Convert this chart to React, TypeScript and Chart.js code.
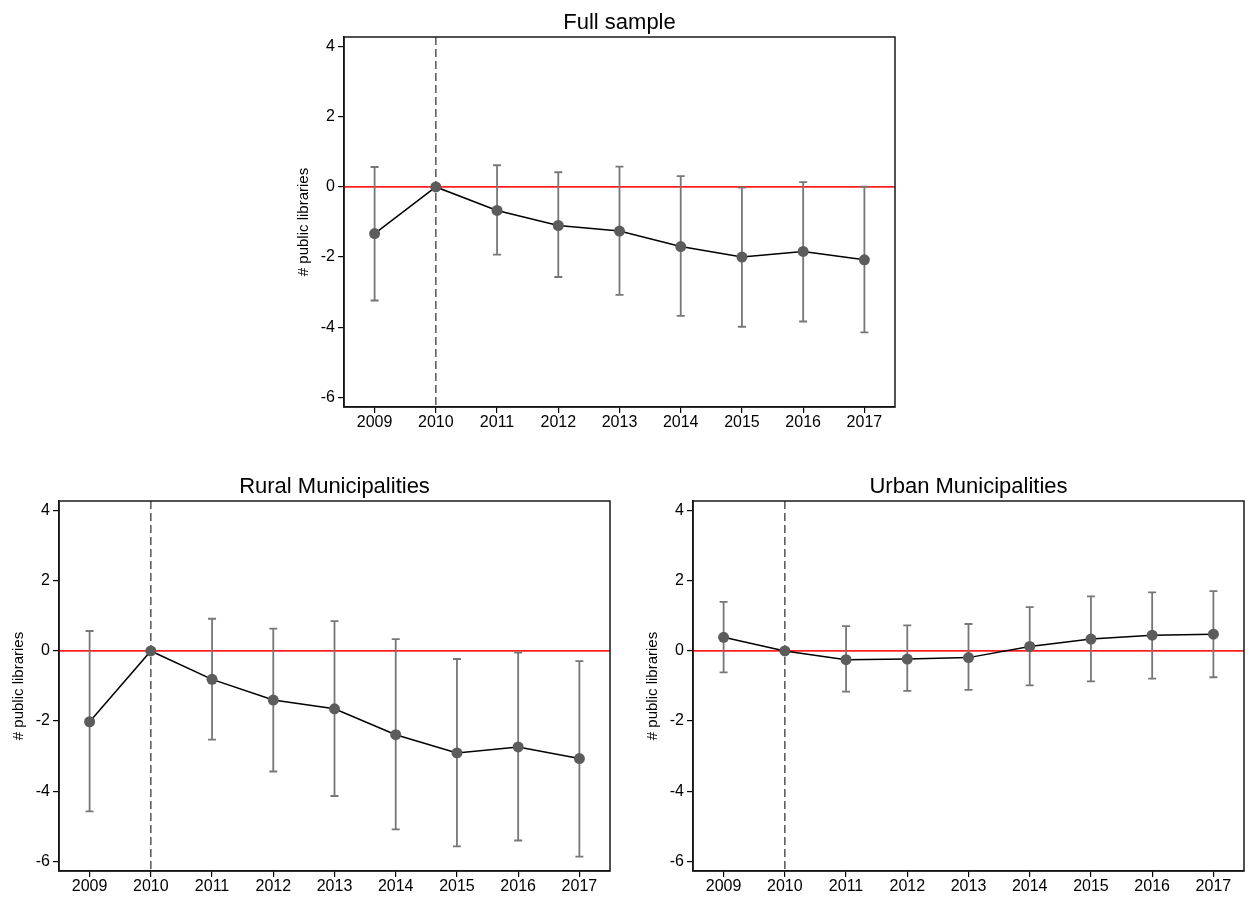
import React, { useEffect, useRef } from "react";
import { Chart, registerables } from "chart.js";

Chart.register(...registerables);

const years = [2009, 2010, 2011, 2012, 2013, 2014, 2015, 2016, 2017];
const yTicks = [-6, -4, -2, 0, 2, 4];
const eventYear = 2010;
const yAxisTitle = "# public libraries";

const fullCoef = [-1.33, 0, -0.67, -1.1, -1.26, -1.7, -2.0, -1.84, -2.08];
const fullLow = [-3.24, null, -1.93, -2.57, -3.08, -3.68, -3.99, -3.84, -4.15];
const fullHigh = [0.57, null, 0.62, 0.42, 0.58, 0.31, -0.02, 0.14, 0.01];

const ruralCoef = [-2.02, 0, -0.81, -1.4, -1.65, -2.39, -2.91, -2.74, -3.07];
const ruralLow = [-4.58, null, -2.53, -3.44, -4.14, -5.09, -5.58, -5.41, -5.87];
const ruralHigh = [0.57, null, 0.92, 0.64, 0.85, 0.34, -0.23, -0.05, -0.29];

const urbanCoef = [0.39, 0, -0.25, -0.23, -0.19, 0.13, 0.34, 0.45, 0.48];
const urbanLow = [-0.61, null, -1.16, -1.14, -1.11, -0.98, -0.87, -0.79, -0.75];
const urbanHigh = [1.4, null, 0.71, 0.73, 0.77, 1.25, 1.56, 1.67, 1.71];

const FONT = "'Liberation Sans', Arial, Helvetica, sans-serif";

type PanelProps = {
  title: string;
  coef: number[];
  low: (number | null)[];
  high: (number | null)[];
  left: number;
  top: number;
};

const CANVAS_W = 613;
const CANVAS_H = 433;

function makeOverlay(title: string, low: (number | null)[], high: (number | null)[]) {
  return {
    id: "overlay-" + title.replace(/\s+/g, ""),
    beforeDatasetsDraw(chart: any) {
      const { ctx, chartArea, scales } = chart;
      const xs = scales.x;
      const ys = scales.y;
      ctx.save();
      // reference line at zero
      ctx.strokeStyle = "#ff2020";
      ctx.lineWidth = 1.8;
      ctx.beginPath();
      const y0 = ys.getPixelForValue(0);
      ctx.moveTo(chartArea.left, y0);
      ctx.lineTo(chartArea.right, y0);
      ctx.stroke();
      // dashed event line
      ctx.strokeStyle = "#555";
      ctx.lineWidth = 1.5;
      ctx.setLineDash([8, 4]);
      const xe = xs.getPixelForValue(eventYear);
      ctx.beginPath();
      ctx.moveTo(xe, chartArea.top);
      ctx.lineTo(xe, chartArea.bottom);
      ctx.stroke();
      ctx.setLineDash([]);
      // error bars
      ctx.strokeStyle = "#777";
      ctx.lineWidth = 1.8;
      years.forEach((yr, i) => {
        const lo = low[i];
        const hi = high[i];
        if (lo == null || hi == null) return;
        const px = xs.getPixelForValue(yr);
        const pLo = ys.getPixelForValue(lo);
        const pHi = ys.getPixelForValue(hi);
        ctx.beginPath();
        ctx.moveTo(px, pLo);
        ctx.lineTo(px, pHi);
        ctx.moveTo(px - 4, pLo);
        ctx.lineTo(px + 4, pLo);
        ctx.moveTo(px - 4, pHi);
        ctx.lineTo(px + 4, pHi);
        ctx.stroke();
      });
      ctx.restore();
    },
    afterDraw(chart: any) {
      const { ctx, chartArea } = chart;
      ctx.save();
      ctx.strokeStyle = "#1a1a1a";
      ctx.lineWidth = 1.5;
      ctx.strokeRect(chartArea.left, chartArea.top, chartArea.right - chartArea.left, chartArea.bottom - chartArea.top);
      ctx.fillStyle = "#000";
      ctx.font = `22px ${FONT}`;
      ctx.textAlign = "center";
      ctx.textBaseline = "alphabetic";
      ctx.fillText(title, (chartArea.left + chartArea.right) / 2, chartArea.top - 8);
      ctx.restore();
    },
  };
}

function Panel({ title, coef, low, high, left, top }: PanelProps) {
  const ref = useRef<HTMLCanvasElement | null>(null);
  useEffect(() => {
    if (!ref.current) return;
    const chart = new Chart(ref.current, {
      type: "line",
      data: {
        datasets: [
          {
            data: years.map((yr, i) => ({ x: yr, y: coef[i] })),
            borderColor: "#000",
            borderWidth: 1.5,
            pointRadius: 5.5,
            pointBackgroundColor: "#5c5c5c",
            pointBorderWidth: 0,
            pointHoverRadius: 5.5,
            tension: 0,
            fill: false,
          },
        ],
      },
      options: {
        animation: false,
        responsive: false,
        maintainAspectRatio: false,
        devicePixelRatio: 1,
        events: [],
        layout: { padding: { top: 37, right: 6, left: 0, bottom: 0 } },
        plugins: {
          legend: { display: false },
          tooltip: { enabled: false },
          title: { display: false },
        },
        scales: {
          x: {
            type: "linear",
            min: 2008.5,
            max: 2017.5,
            afterBuildTicks: (s: any) => {
              s.ticks = years.map((v) => ({ value: v }));
            },
            afterFit: (s: any) => {
              s.height = 26;
            },
            grid: { drawOnChartArea: false, drawTicks: true, tickLength: 6, color: "#000", lineWidth: 1.2 },
            border: { display: true, color: "#000", width: 1.5 },
            ticks: {
              color: "#000",
              font: { family: FONT, size: 16 },
              padding: 0,
              maxRotation: 0,
              autoSkip: false,
              callback: (v: any) => String(v),
            },
          },
          y: {
            type: "linear",
            min: -6.28,
            max: 4.28,
            afterBuildTicks: (s: any) => {
              s.ticks = yTicks.map((v) => ({ value: v }));
            },
            afterFit: (s: any) => {
              s.width = 56;
            },
            grid: { drawOnChartArea: false, drawTicks: true, tickLength: 6, color: "#000", lineWidth: 1.2 },
            border: { display: true, color: "#000", width: 1.5 },
            ticks: {
              color: "#000",
              font: { family: FONT, size: 16 },
              padding: 3,
              autoSkip: false,
              callback: (v: any) => String(v),
            },
            title: {
              display: true,
              text: yAxisTitle,
              color: "#000",
              font: { family: FONT, size: 15 },
              padding: { top: 7, bottom: 0 },
            },
          },
        },
      },
      plugins: [makeOverlay(title, low, high)],
    } as any);
    return () => chart.destroy();
  }, [title, coef, low, high]);
  return (
    <div style={{ position: "absolute", left, top, width: CANVAS_W, height: CANVAS_H }}>
      <canvas ref={ref} width={CANVAS_W} height={CANVAS_H} style={{ display: "block" }} />
    </div>
  );
}

export default function App() {
  return (
    <div
      style={{
        position: "absolute",
        left: 0,
        top: 0,
        width: 1251,
        height: 898,
        overflow: "hidden",
        background: "#fff",
      }}
    >
      <Panel title="Full sample" coef={fullCoef} low={fullLow} high={fullHigh} left={288} top={0} />
      <Panel title="Rural Municipalities" coef={ruralCoef} low={ruralLow} high={ruralHigh} left={3} top={464} />
      <Panel title="Urban Municipalities" coef={urbanCoef} low={urbanLow} high={urbanHigh} left={637} top={464} />
    </div>
  );
}
